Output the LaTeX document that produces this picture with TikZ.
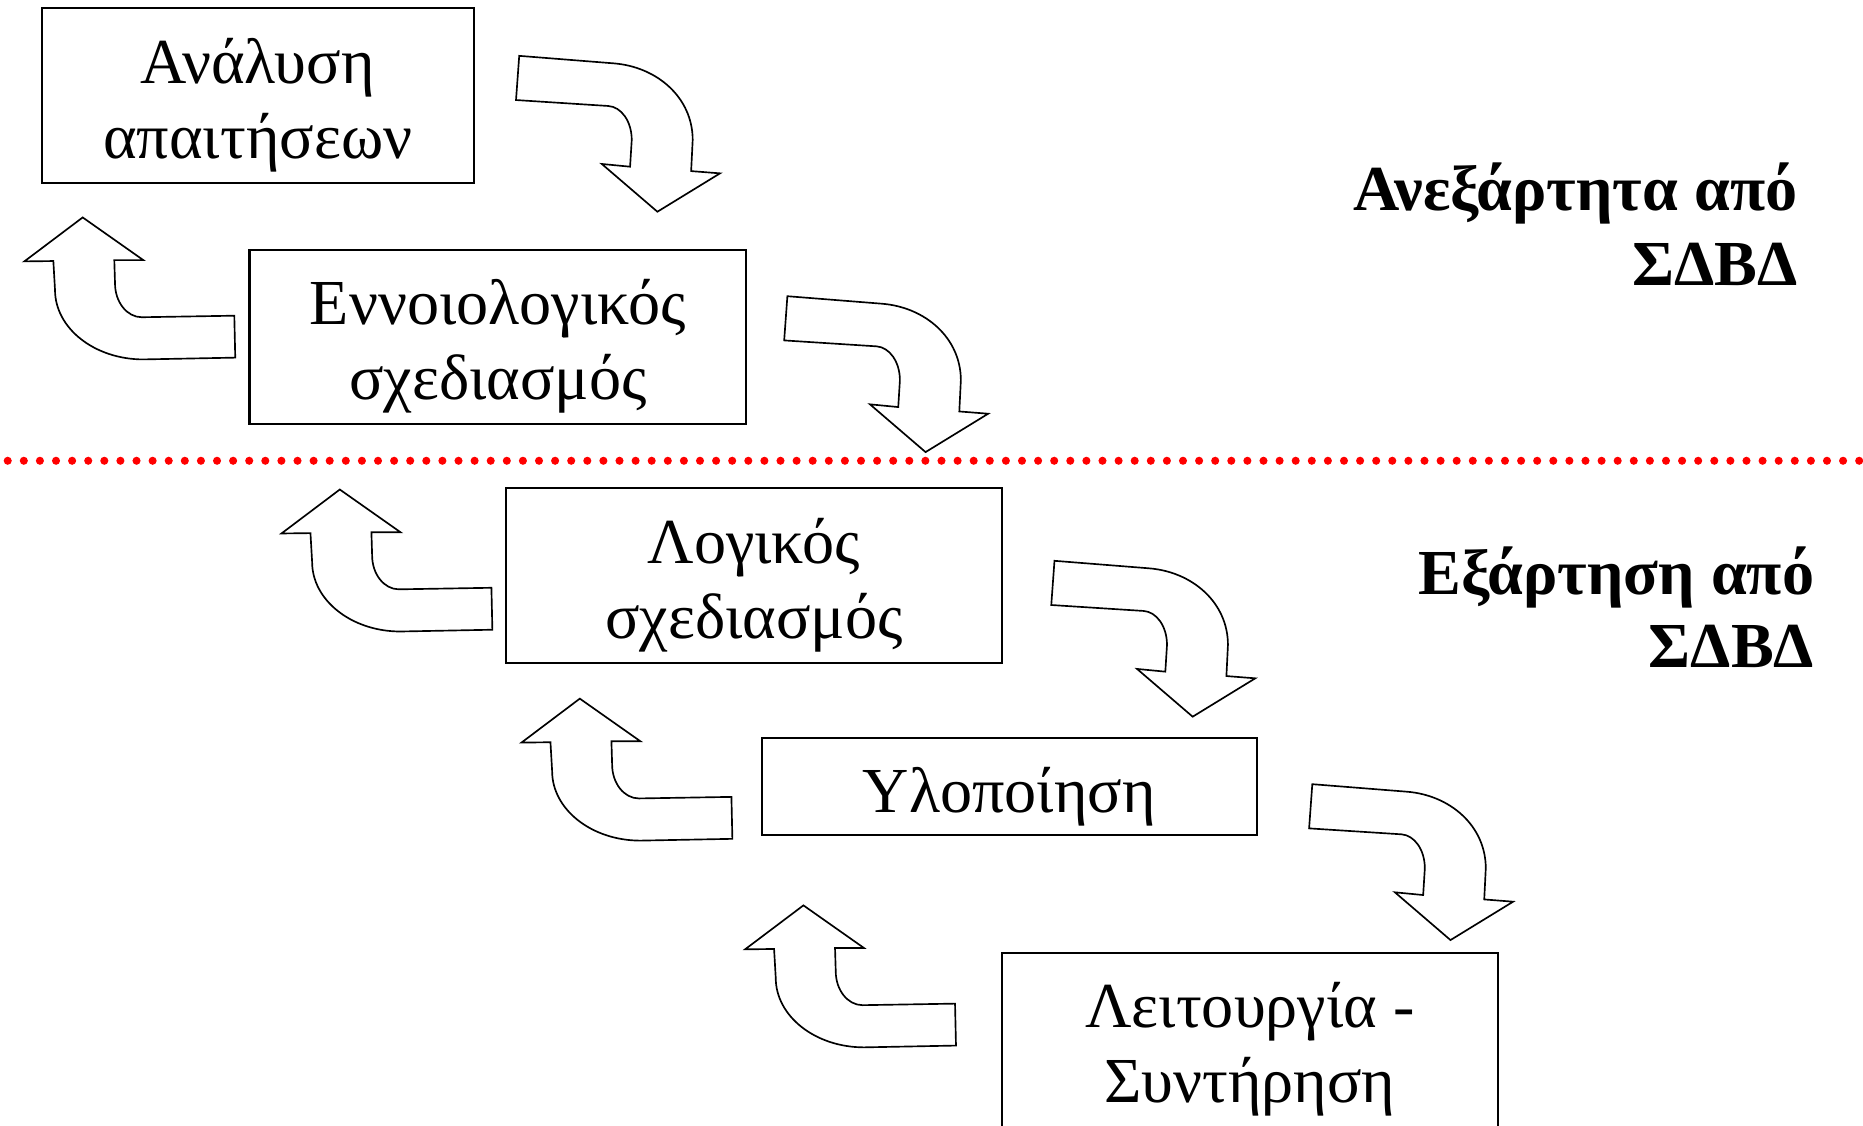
\documentclass[tikz,border=0pt]{standalone}
\usepackage{fontspec}
\setmainfont{Liberation Serif}
\begin{document}
\begin{tikzpicture}[x=1bp,y=-1bp,
  box/.style={draw=black, line width=1.7bp, fill=white, inner sep=0pt},
  lbl/.style={inner sep=0pt, font=\fontsize{54bp}{64bp}\selectfont, anchor=base},
  side/.style={inner sep=0pt, font=\fontsize{54bp}{64bp}\selectfont\bfseries, anchor=base east},
  blk/.style={draw=black, line width=1.4bp, fill=white, line join=miter},
  darr/.pic={\draw[blk] (0,0) -- (79.3,6.3) .. controls (116.1,9.1) and (146,35.2) .. (146,70.8)
      -- (144.7,97) -- (169,98.9) -- (116.3,131.2) -- (69.5,91) -- (93.3,93.3) -- (94.7,70.8)
      .. controls (94.7,55) and (85.8,42.9) .. (75,42.2) -- (-2.7,37.2) -- cycle;},
  uarr/.pic={\draw[blk] (0,0) -- (51,35.9) -- (26.6,35.9) -- (27.2,55.5)
      .. controls (27.2,71.3) and (37.3,84) .. (49.7,84) -- (127.6,82.7) -- (128.4,118) -- (51,119.5)
      .. controls (10,119.5) and (-23.3,93.3) .. (-23.3,61) -- (-24.7,36.7) -- (-49.1,37) -- cycle;}
]
\useasboundingbox (0,0) rectangle (1568,947);
\clip (0,0) rectangle (1568,947);

% separator
\coordinate (dl) at (6.5,387.8);
\coordinate (dr) at (1568,387.8);
\draw[red, line width=6.8bp, line cap=round, dash pattern=on 0bp off 13.55bp] (dl) -- (dr);

% boxes
\node[box, minimum width=364bp, minimum height=147bp] (bA) at (217,80.5) {};
\node[box, minimum width=418bp, minimum height=147bp] (bE) at (419,283.5) {};
\node[box, minimum width=417bp, minimum height=147bp] (bL) at (634.5,484.5) {};
\node[box, minimum width=417bp, minimum height=82bp] (bY) at (849.5,662) {};
\node[box, minimum width=418bp, minimum height=158bp] (bM) at (1052,881) {};

% box texts
\node[lbl] (tA1) at (217,70) {Ανάλυση};
\node[lbl] (tA2) at (217,133) {απαιτήσεων};
\node[lbl] (tE1) at (419,273) {Εννοιολογικός};
\node[lbl] (tE2) at (419,336) {σχεδιασμός};
\node[lbl] (tL1) at (634.5,474) {Λογικός};
\node[lbl] (tL2) at (634.5,537) {σχεδιασμός};
\node[lbl] (tY) at (849.5,684) {Υλοποίηση};
\node[lbl] (tM1) at (1052,865) {Λειτουργία -};
\node[lbl] (tM2) at (1052,928) {Συντήρηση};

% side labels
\node[side] (s1) at (1513,177) {Ανεξάρτητα από};
\node[side] (s2) at (1513,240) {ΣΔΒΔ};
\node[side] (s3) at (1527,500) {Εξάρτηση από};
\node[side] (s4) at (1527,562) {ΣΔΒΔ};

% down arrows
\pic at (437,47) {darr};
\pic at (662.7,249.3) {darr};
\pic at (887.5,472) {darr};
\pic at (1104.5,660) {darr};

% up arrows
\pic at (69.6,183) {uarr};
\pic at (286,412) {uarr};
\pic at (488,588) {uarr};
\pic at (676.2,762) {uarr};
\end{tikzpicture}
\end{document}
